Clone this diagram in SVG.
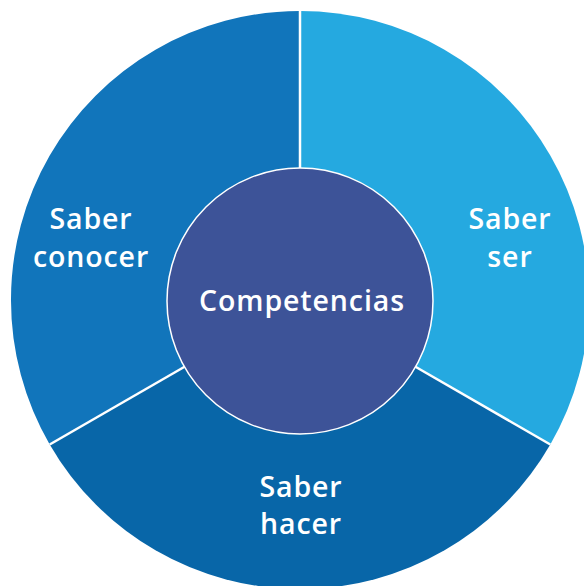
<svg xmlns="http://www.w3.org/2000/svg" width="584" height="586" viewBox="0 0 584 586">
<style>
.lbl{font-family:"Open Sans","Liberation Sans",sans-serif;font-weight:600;font-size:28.5px;letter-spacing:0.9px;fill:#ffffff;text-anchor:middle}
.div{stroke:#ffffff;stroke-width:2.5;fill:none}
</style>
<rect width="584" height="586" fill="#ffffff"/>
<g id="saber-ser">
<path d="M300,300 L300,11 A289,289 0 0 1 550.3,444.5 Z" fill="#25A9E0"/>
<text class="lbl" x="510" y="229">Saber</text>
<text class="lbl" x="510" y="267">ser</text>
</g>
<g id="saber-hacer">
<path d="M300,300 L550.3,444.5 A289,289 0 0 1 49.7,444.5 Z" fill="#0866A8"/>
<text class="lbl" x="301" y="497">Saber</text>
<text class="lbl" x="301" y="534">hacer</text>
</g>
<g id="saber-conocer">
<path d="M300,300 L49.7,444.5 A289,289 0 0 1 300,11 Z" fill="#1175BB"/>
<text class="lbl" x="91" y="229">Saber</text>
<text class="lbl" x="91" y="267">conocer</text>
</g>
<g id="connectors">
<line class="div" x1="300" y1="11" x2="300" y2="168"/>
<line class="div" x1="550.3" y1="444.5" x2="415" y2="366.5"/>
<line class="div" x1="49.7" y1="444.5" x2="185" y2="366.5"/>
</g>
<g id="competencias">
<circle cx="300" cy="301" r="133" fill="#3D5398" stroke="#ffffff" stroke-width="1.5"/>
<text class="lbl" x="302" y="311">Competencias</text>
</g>
</svg>
